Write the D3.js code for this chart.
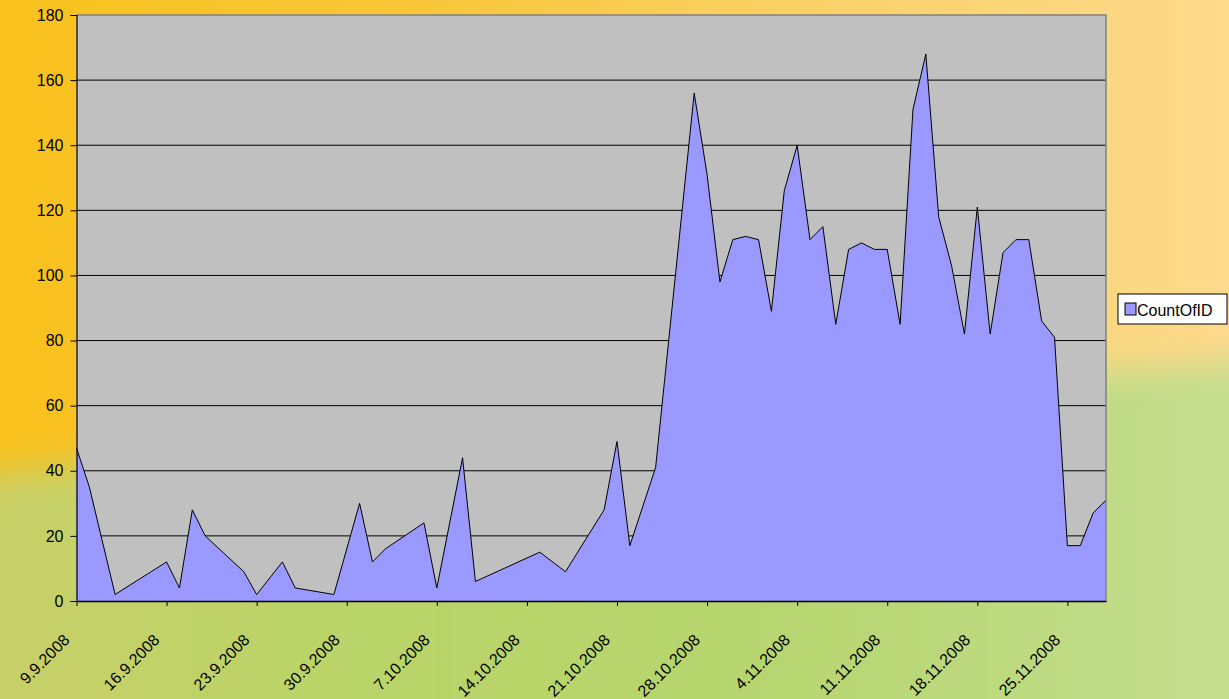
<!DOCTYPE html>
<html>
<head>
<meta charset="utf-8">
<script src="https://cdnjs.cloudflare.com/ajax/libs/d3/7.8.5/d3.min.js"></script>
<style>
  body { margin: 0; overflow: hidden; }
  svg { display: block; font-family: "Liberation Sans", Arial, sans-serif; }
</style>
</head>
<body>
<script>
'use strict';

// data (one point per date, gaps are days with no entry)
const dates = [
  "9.9.2008", "10.9.2008", "12.9.2008", "16.9.2008", "17.9.2008", "18.9.2008", "19.9.2008",
  "22.9.2008", "23.9.2008", "25.9.2008", "26.9.2008", "29.9.2008", "1.10.2008", "2.10.2008",
  "3.10.2008", "6.10.2008", "7.10.2008", "9.10.2008", "10.10.2008", "15.10.2008", "17.10.2008",
  "20.10.2008", "21.10.2008", "22.10.2008", "24.10.2008", "27.10.2008", "28.10.2008", "29.10.2008",
  "30.10.2008", "31.10.2008", "1.11.2008", "2.11.2008", "3.11.2008", "4.11.2008", "5.11.2008",
  "6.11.2008", "7.11.2008", "8.11.2008", "9.11.2008", "10.11.2008", "11.11.2008", "12.11.2008",
  "13.11.2008", "14.11.2008", "15.11.2008", "16.11.2008", "17.11.2008", "18.11.2008", "19.11.2008",
  "20.11.2008", "21.11.2008", "22.11.2008", "23.11.2008", "24.11.2008", "25.11.2008", "26.11.2008",
  "27.11.2008", "28.11.2008"
];
const counts = [
  47, 35, 2, 12, 4, 28, 20,
  9, 2, 12, 4, 2, 30, 12,
  16, 24, 4, 44, 6, 15, 9,
  28, 49, 17, 41, 156, 131, 98,
  111, 112, 111, 89, 126, 140, 111,
  115, 85, 108, 110, 108, 108, 85,
  151, 168, 118, 103, 82, 121, 82,
  107, 111, 111, 86, 81, 17, 17,
  27, 31
];
const tickDates = [
  "9.9.2008", "16.9.2008", "23.9.2008", "30.9.2008", "7.10.2008", "14.10.2008",
  "21.10.2008", "28.10.2008", "4.11.2008", "11.11.2008", "18.11.2008", "25.11.2008"
];
const yTicks = [0, 20, 40, 60, 80, 100, 120, 140, 160, 180];
const firstDate = "9.9.2008";
const lastDate = "28.11.2008";
const seriesName = "CountOfID";

(function() {
  let width = 1229;
  let height = 699;
  let plot = {left: 76.5, right: 1106, top: 15, bottom: 601};
  let parseDate = d3.utcParse("%e.%m.%Y");

  let svg = d3.select('body')
    .append('svg')
    .attr('width', width)
    .attr('height', height);

  let defs = drawBackground();

  let rows = dates.map((d, i) => ({date: parseDate(d), count: counts[i]}));

  let xScale = d3.scaleUtc()
    .domain([parseDate(firstDate), parseDate(lastDate)])
    .range([plot.left, plot.right]);

  let yScale = d3.scaleLinear()
    .domain([0, 180])
    .range([plot.bottom, plot.top]);

  // plot area
  svg.append('rect')
    .attr('x', plot.left)
    .attr('y', plot.top)
    .attr('width', plot.right - plot.left)
    .attr('height', plot.bottom - plot.top)
    .attr('fill', '#c0c0c0');

  // gridlines
  svg.append('g')
    .selectAll('line')
    .data(yTicks.filter((t) => t > 0 && t < 180))
    .enter()
    .append('line')
      .attr('x1', plot.left)
      .attr('x2', plot.right)
      .attr('y1', (d) => yScale(d))
      .attr('y2', (d) => yScale(d))
      .attr('stroke', '#000')
      .attr('stroke-width', 1);

  // the area itself
  let area = d3.area()
    .x((d) => xScale(d.date))
    .y0(yScale(0))
    .y1((d) => yScale(d.count));

  let line = d3.line()
    .x((d) => xScale(d.date))
    .y((d) => yScale(d.count));

  svg.append('path')
    .datum(rows)
    .attr('fill', '#9999ff')
    .attr('d', area);

  svg.append('path')
    .datum(rows)
    .attr('fill', 'none')
    .attr('stroke', '#000')
    .attr('stroke-width', 1)
    .attr('stroke-linejoin', 'miter')
    .attr('d', line);

  // top and right border of plot area
  svg.append('path')
    .attr('d', 'M' + plot.left + ',' + plot.top + 'H' + plot.right + 'V' + plot.bottom)
    .attr('fill', 'none')
    .attr('stroke', '#808080')
    .attr('stroke-width', 1.5);

  // y axis
  let yAxis = d3.axisLeft(yScale)
    .tickValues(yTicks)
    .tickSize(6)
    .tickPadding(7);
  let gy = svg.append('g')
    .attr('transform', 'translate(' + plot.left + ',0)')
    .call(yAxis);
  gy.select('.domain').attr('stroke', '#000').attr('stroke-width', 1.2);
  gy.selectAll('.tick line').attr('stroke', '#000');
  gy.selectAll('text')
    .attr('fill', '#000')
    .style('font-size', '16px')
    .style('font-family', '"Liberation Sans", Arial, sans-serif');

  // x axis: ticks from d3, labels drawn separately so they can be slanted
  let tickValues = tickDates.map(parseDate);
  let xAxis = d3.axisBottom(xScale)
    .tickValues(tickValues)
    .tickFormat('')
    .tickSize(5)
    .tickSizeOuter(0);
  let gx = svg.append('g')
    .attr('transform', 'translate(0,' + plot.bottom + ')')
    .call(xAxis);
  gx.select('.domain').attr('stroke', '#000').attr('stroke-width', 1.5);
  gx.selectAll('.tick line').attr('stroke', '#000');

  // each label runs along a 45 degree guide path ending just left of its tick
  let guideLen = 100;
  defs.selectAll('path.guide')
    .data(tickValues)
    .enter()
    .append('path')
      .attr('class', 'guide')
      .attr('id', (d, i) => 'xlab' + i)
      .attr('d', (d) => {
        let ex = xScale(d) - 6;
        let ey = plot.bottom + 40;
        return 'M' + (ex - guideLen) + ',' + (ey + guideLen) + 'L' + ex + ',' + ey;
      });

  svg.append('g')
    .attr('class', 'x-labels')
    .selectAll('text')
    .data(tickValues)
    .enter()
    .append('text')
      .attr('fill', '#000')
      .style('font-size', '16px')
    .append('textPath')
      .attr('href', (d, i) => '#xlab' + i)
      .attr('startOffset', '100%')
      .attr('text-anchor', 'end')
      .text((d, i) => tickDates[i]);

  // legend
  let legend = svg.append('g')
    .attr('transform', 'translate(1118,294)');
  legend.append('rect')
    .attr('width', 109)
    .attr('height', 30)
    .attr('fill', '#fff')
    .attr('stroke', '#000')
    .attr('stroke-width', 1);
  legend.append('rect')
    .attr('x', 7)
    .attr('y', 9)
    .attr('width', 11)
    .attr('height', 12)
    .attr('fill', '#9999ff')
    .attr('stroke', '#000')
    .attr('stroke-width', 1);
  legend.append('text')
    .attr('x', 19)
    .attr('y', 21.5)
    .style('font-size', '16px')
    .text(seriesName);

  // slide-like backdrop: orange on top, green towards the bottom
  function drawBackground() {
    let defs = svg.append('defs');

    let top = defs.append('linearGradient')
      .attr('id', 'bgTop')
      .attr('x1', 0).attr('x2', 1).attr('y1', 0).attr('y2', 0);
    top.append('stop').attr('offset', 0).attr('stop-color', '#f8c11c');
    top.append('stop').attr('offset', 0.35).attr('stop-color', '#f9c73a');
    top.append('stop').attr('offset', 0.7).attr('stop-color', '#fbd26c');
    top.append('stop').attr('offset', 1).attr('stop-color', '#fdda8c');

    let bottom = defs.append('linearGradient')
      .attr('id', 'bgBottom')
      .attr('x1', 0).attr('x2', 1).attr('y1', 0).attr('y2', 0);
    bottom.append('stop').attr('offset', 0).attr('stop-color', '#cacf68');
    bottom.append('stop').attr('offset', 0.3).attr('stop-color', '#b9d468');
    bottom.append('stop').attr('offset', 0.6).attr('stop-color', '#b6d56e');
    bottom.append('stop').attr('offset', 1).attr('stop-color', '#c6df94');

    defs.append('filter')
      .attr('id', 'soft')
      .attr('x', -0.1).attr('y', -0.2).attr('width', 1.2).attr('height', 1.4)
      .append('feGaussianBlur')
      .attr('stdDeviation', 18);

    svg.append('rect')
      .attr('width', width)
      .attr('height', height)
      .attr('fill', 'url(#bgTop)');

    svg.append('path')
      .attr('d', 'M-60,480 C300,440 800,385 1300,360 L1300,760 L-60,760 Z')
      .attr('fill', 'url(#bgBottom)')
      .attr('filter', 'url(#soft)');

    return defs;
  }
})();
</script>
</body>
</html>
